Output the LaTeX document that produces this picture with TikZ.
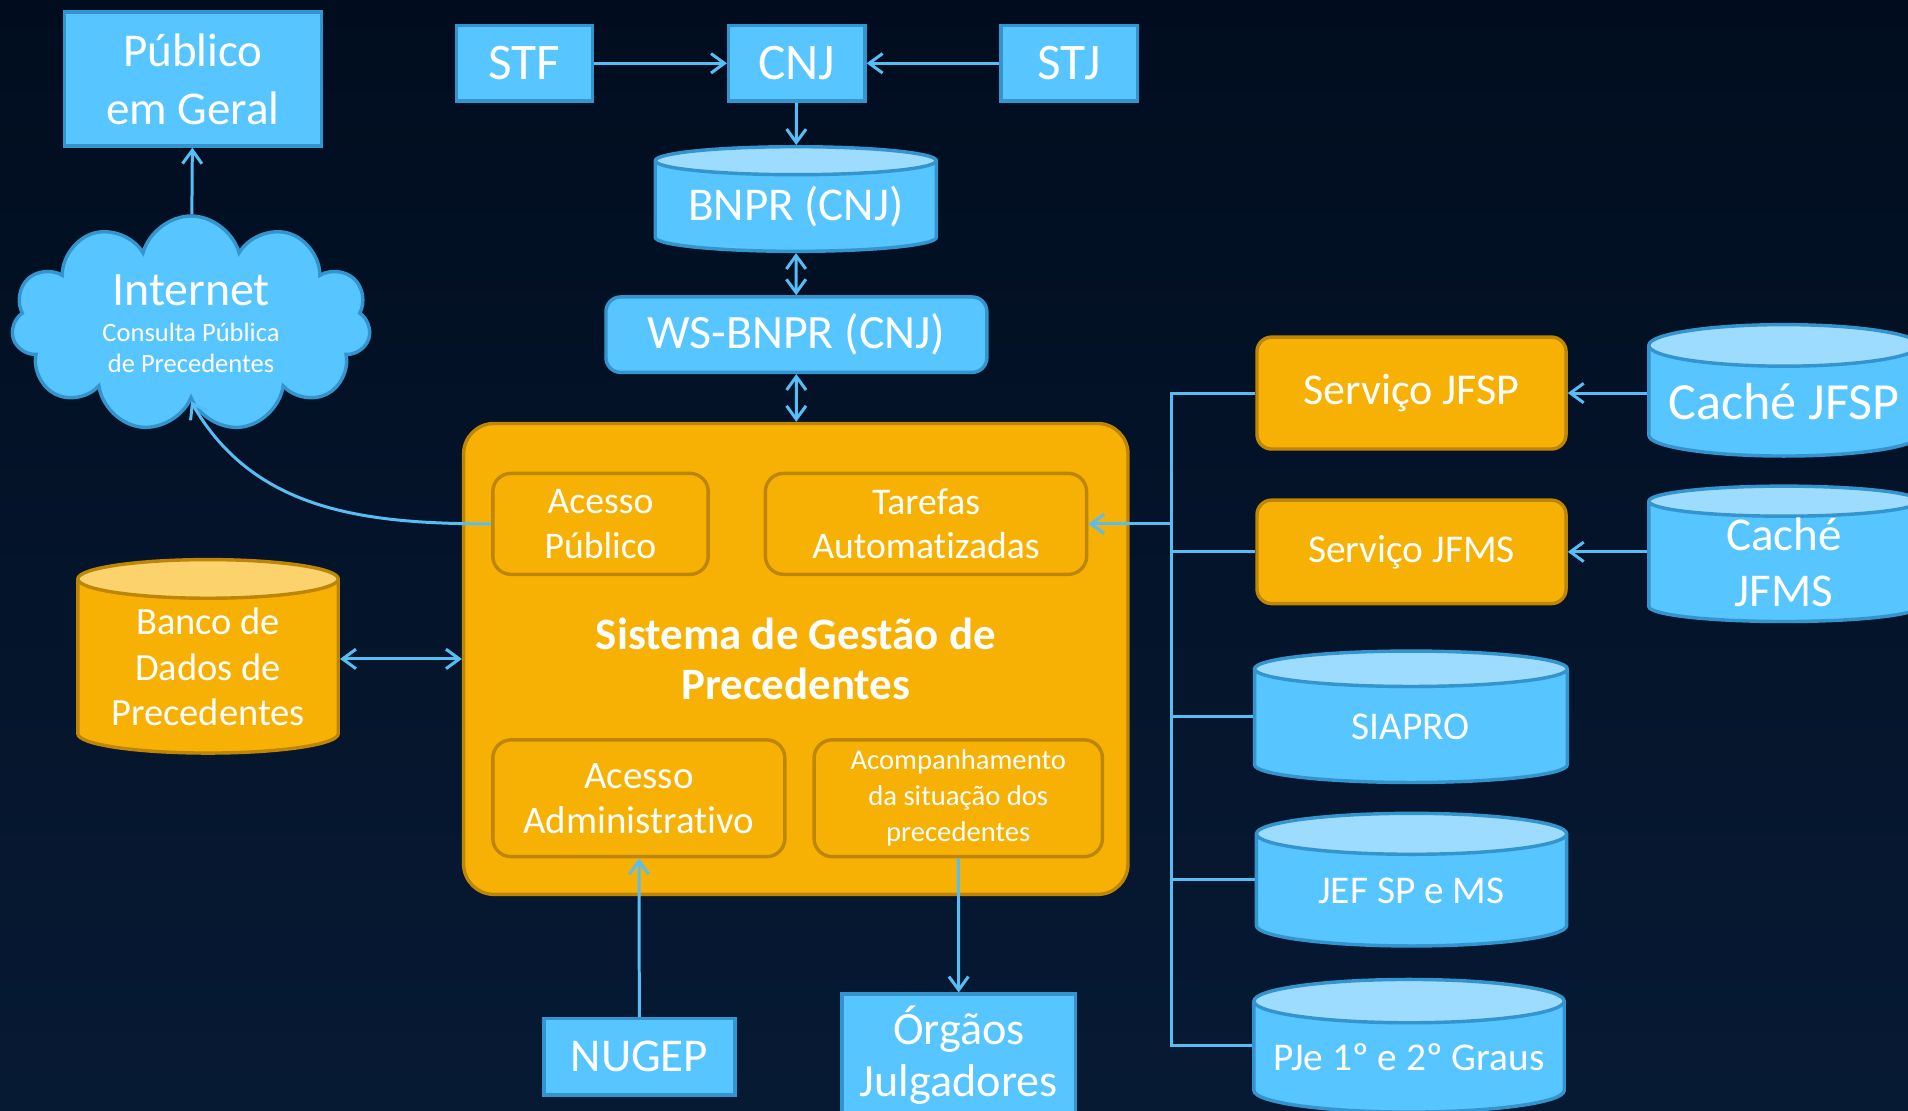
\documentclass[tikz,border=0pt]{standalone}
\usepackage{fontspec}
\setmainfont{Carlito}[Ligatures=NoCommon]
\usetikzlibrary{arrows.meta, positioning, shapes.geometric, shapes.symbols}
\definecolor{bg}{RGB}{1,13,31}
\definecolor{bgbot}{RGB}{7,26,52}
\definecolor{sky}{RGB}{87,197,255}
\definecolor{skyline}{RGB}{52,148,205}
\definecolor{skytop}{RGB}{157,220,255}
\definecolor{gold}{RGB}{247,176,4}
\definecolor{goldline}{RGB}{190,134,8}
\definecolor{goldtop}{RGB}{251,210,108}
\definecolor{wire}{RGB}{86,190,245}
\newcommand{\fs}[2]{\fontsize{#1}{#2}\selectfont}

\begin{document}
\begin{tikzpicture}[
x=0.1mm, y=-0.1mm,
>={Straight Barb[length=1.1mm,width=1.6mm]},
every node/.style={text=white, align=center},
box/.style={draw=skyline, fill=sky, line width=0.8pt, inner sep=0pt},
tag/.style={box, minimum width=11.2mm, minimum height=6.2mm, font=\fs{12}{14}},
rbox/.style={box, rounded corners=1.2mm},
obox/.style={draw=goldline, fill=gold, line width=0.8pt, rounded corners=1.5mm, inner sep=0pt},
db/.style={cylinder, shape border rotate=90, aspect=0.18, draw=skyline, line width=0.8pt,
  cylinder uses custom fill, cylinder body fill=sky, cylinder end fill=skytop, inner sep=0pt},
odb/.style={db, draw=goldline, cylinder body fill=gold, cylinder end fill=goldtop},
link/.style={draw=wire, line width=0.7pt},
]
\useasboundingbox (0,0) rectangle (1568,913);
\fill[top color=bg, middle color=bg, bottom color=bgbot] (0,0) rectangle (1568,913);
\clip (0,0) rectangle (1568,913);

\node[tag] (STF) at (431,52) {STF};
\node[tag, right=10.9mm of STF] (CNJ) {CNJ};
\node[tag, right=10.9mm of CNJ] (STJ) {STJ};
\node[db, aspect=0.13, minimum width=23.1mm, minimum height=8.6mm, font=\fs{11}{13}] (BNPR) at (654,170) {BNPR (CNJ)};
\node[rbox, minimum width=31.3mm, minimum height=6.2mm, font=\fs{11.2}{13}] (WS) at (654.5,275) {WS-BNPR (CNJ)};
\node[obox, rounded corners=2.5mm, minimum width=54.6mm, minimum height=38.7mm, font=\bfseries\fs{10.5}{11.9}] (SGP) at (654,541.5) {Sistema de Gestão de\\Precedentes};

\node[obox, minimum width=17.7mm, minimum height=8.3mm, font=\fs{8.8}{10.4}] (AP) at (493.5,430.5) {Acesso\\Público};
\node[obox, minimum width=26.4mm, minimum height=8.3mm, font=\fs{8.8}{10.4}] (TA) at (761,430.5) {Tarefas\\Automatizadas};
\node[obox, minimum width=24mm, minimum height=9.6mm, font=\fs{9.1}{10.5}] (AA) at (525,656) {Acesso\\Administrativo};
\node[obox, minimum width=23.7mm, minimum height=9.6mm, font=\fs{6.7}{8.4}] (AC) at (787.5,656) {Acompanhamento\\da situação dos\\precedentes};

\node[box, minimum width=21.1mm, minimum height=11mm, font=\fs{11}{13.6}] (PUB) at (158.5,65) {Público\\em Geral};
\node[cloud, cloud puffs=11, aspect=1.7, draw=skyline, fill=sky, line width=0.8pt, minimum width=29.5mm, minimum height=17.7mm, inner sep=0pt, font=\fs{6.2}{7.4}] (NET) at (157,266) {{\fs{11.2}{13}Internet}\\[1pt]Consulta Pública\\de Precedentes};
\node[odb, aspect=0.2, minimum width=21.4mm, minimum height=15.9mm, font=\fs{9}{10.6}] (BD) at (171,548) {Banco de\\Dados de\\Precedentes};

\node[box, minimum width=15.7mm, minimum height=6.3mm, font=\fs{11}{13}] (NUGEP) at (525.5,868.5) {NUGEP};
\node[box, minimum width=19.2mm, minimum height=10mm, font=\fs{10.8}{12.3}] (OJ) at (788,867) {Órgãos\\Julgadores};

\node[obox, rounded corners=1.2mm, minimum width=25.4mm, minimum height=9.2mm, font=\fs{10.3}{12}] (SJFSP) at (1160,323) {Serviço JFSP};
\node[obox, rounded corners=1.2mm, minimum width=25.4mm, minimum height=8.5mm, font=\fs{9.2}{11}] (SJFMS) at (1160,453.5) {Serviço JFMS};
\node[db, minimum width=22.2mm, minimum height=10.8mm, font=\fs{12.2}{14}] (CJFSP) at (1466,330) {Caché JFSP};
\node[db, aspect=0.26, minimum width=22.2mm, minimum height=10.7mm, font=\fs{11}{13}] (CJFMS) at (1466,462) {Caché\\JFMS};
\node[db, aspect=0.3, minimum width=25.7mm, minimum height=10.8mm, font=\fs{9.2}{11}] (SIAPRO) at (1159.5,597) {SIAPRO};
\node[db, aspect=0.22, minimum width=25.5mm, minimum height=10.9mm, font=\fs{9.2}{11}] (JEF) at (1160,732) {JEF SP e MS};
\node[db, aspect=0.16, minimum width=25.5mm, minimum height=10.9mm, font=\fs{9.2}{11}] (PJE) at (1158,869) {PJe 1º e 2º Graus};
\coordinate (BUS) at (963,0);

\draw[link,->] (STF) -- (CNJ);
\draw[link,->] (STJ) -- (CNJ);
\draw[link,->] (CNJ) -- (BNPR);
\draw[link,<->] (BNPR) -- (WS);
\draw[link,<->] (WS) -- (SGP);
\draw[link,->] (NET) -- (PUB);
\draw[link,->] (AP.west) to[out=180,in=-60] (NET.south);
\draw[link,<->] (SGP.west -| BD.east) -- (SGP.west);
\draw[link,->] (NUGEP) -- (AA);
\draw[link,->] (AC) -- (OJ);
\draw[link,->] (SJFSP.east -| CJFSP.west) -- (SJFSP.east);
\draw[link,->] (SJFMS.east -| CJFMS.west) -- (SJFMS.east);
\draw[link] (SJFSP.west) -- (SJFSP.west -| BUS) -- (PJE.shape center -| BUS) -- (PJE.shape center -| PJE.west);
\draw[link] (SJFMS.west) -- (SJFMS.west -| BUS);
\draw[link] (SIAPRO.shape center -| SIAPRO.west) -- (SIAPRO.shape center -| BUS);
\draw[link] (JEF.shape center -| JEF.west) -- (JEF.shape center -| BUS);
\draw[link,->] (TA.east -| BUS) -- (TA.east);
\end{tikzpicture}
\end{document}
